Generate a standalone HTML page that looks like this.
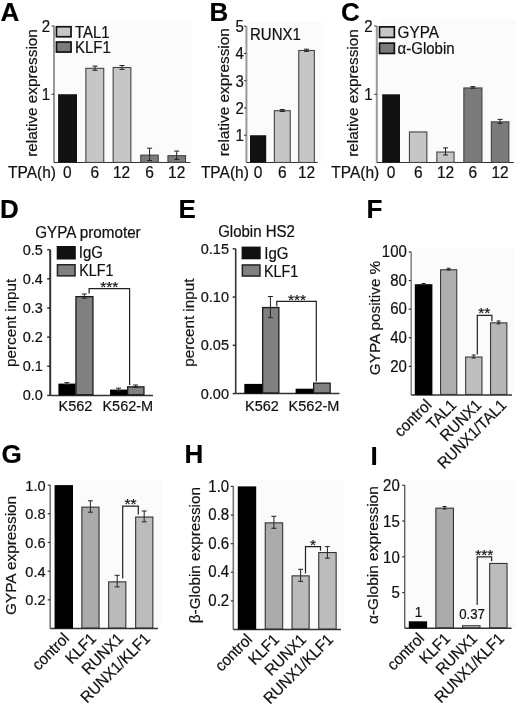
<!DOCTYPE html>
<html><head><meta charset="utf-8"><title>Figure</title>
<style>
html,body{margin:0;padding:0;background:#fff;}
body{width:520px;height:705px;overflow:hidden;}
svg{display:block;filter:blur(0.4px);}
text{font-family:"Liberation Sans", Arial, sans-serif;stroke:#111;stroke-width:0.2px;}
</style></head><body>
<svg width="520" height="705" viewBox="0 0 520 705">
<rect x="0" y="0" width="520" height="705" fill="#fff"/>
<rect x="55.00" y="20.00" width="137.30" height="142.00" fill="#fbfbfb"/>
<rect x="247.00" y="22.10" width="76.70" height="139.90" fill="#fbfbfb"/>
<rect x="378.00" y="19.20" width="138.00" height="142.80" fill="#fbfbfb"/>
<rect x="412.00" y="247.90" width="102.70" height="146.60" fill="#fbfbfb"/>
<rect x="51.00" y="479.90" width="110.30" height="148.10" fill="#fbfbfb"/>
<rect x="234.00" y="479.90" width="109.90" height="149.10" fill="#fbfbfb"/>
<rect x="405.50" y="479.80" width="111.00" height="148.20" fill="#fbfbfb"/>
<text transform="translate(0.50 21.00)" font-size="26" font-weight="bold" fill="#000">A</text>
<line x1="54.00" y1="26.00" x2="54.00" y2="162.50" stroke="#999" stroke-width="2"/>
<line x1="54.00" y1="162.50" x2="190.40" y2="162.50" stroke="#333" stroke-width="1.2"/>
<line x1="51.50" y1="94.25" x2="54.00" y2="94.25" stroke="#333" stroke-width="1"/>
<text transform="translate(50.00 100.05) scale(1 1.04)" font-size="15" text-anchor="end" fill="#111">1</text>
<line x1="51.50" y1="26.00" x2="54.00" y2="26.00" stroke="#333" stroke-width="1"/>
<text transform="translate(50.00 31.80) scale(1 1.04)" font-size="15" text-anchor="end" fill="#111">2</text>
<rect x="58.10" y="94.25" width="18.90" height="68.25" fill="#111"/>
<rect x="85.85" y="68.32" width="17.90" height="94.13" fill="#c6c6c6" stroke="#444" stroke-width="1.1"/>
<rect x="113.15" y="67.50" width="17.70" height="94.95" fill="#c6c6c6" stroke="#444" stroke-width="1.1"/>
<rect x="140.75" y="155.13" width="17.50" height="7.32" fill="#7b7b7b" stroke="#444" stroke-width="1.1"/>
<rect x="167.95" y="155.68" width="17.60" height="6.77" fill="#7b7b7b" stroke="#444" stroke-width="1.1"/>
<line x1="95.00" y1="66.10" x2="95.00" y2="70.30" stroke="#222" stroke-width="1.0"/>
<line x1="92.50" y1="66.10" x2="97.50" y2="66.10" stroke="#222" stroke-width="1.0"/>
<line x1="92.50" y1="70.30" x2="97.50" y2="70.30" stroke="#222" stroke-width="1.0"/>
<line x1="122.00" y1="65.50" x2="122.00" y2="69.40" stroke="#222" stroke-width="1.0"/>
<line x1="119.50" y1="65.50" x2="124.50" y2="65.50" stroke="#222" stroke-width="1.0"/>
<line x1="119.50" y1="69.40" x2="124.50" y2="69.40" stroke="#222" stroke-width="1.0"/>
<line x1="149.60" y1="148.20" x2="149.60" y2="160.50" stroke="#222" stroke-width="1.0"/>
<line x1="147.10" y1="148.20" x2="152.10" y2="148.20" stroke="#222" stroke-width="1.0"/>
<line x1="147.10" y1="160.50" x2="152.10" y2="160.50" stroke="#222" stroke-width="1.0"/>
<line x1="176.70" y1="151.10" x2="176.70" y2="159.40" stroke="#222" stroke-width="1.0"/>
<line x1="174.20" y1="151.10" x2="179.20" y2="151.10" stroke="#222" stroke-width="1.0"/>
<line x1="174.20" y1="159.40" x2="179.20" y2="159.40" stroke="#222" stroke-width="1.0"/>
<rect x="56.45" y="26.75" width="14.60" height="10.00" fill="#c6c6c6" stroke="#111" stroke-width="1.7"/>
<rect x="56.45" y="42.05" width="14.60" height="10.00" fill="#7b7b7b" stroke="#111" stroke-width="1.7"/>
<text transform="translate(75.00 37.50) scale(1 1.06)" font-size="15" fill="#111">TAL1</text>
<text transform="translate(75.00 53.10) scale(1 1.06)" font-size="15" fill="#111">KLF1</text>
<text transform="translate(8.00 177.50) scale(1 1.06)" font-size="15.5" fill="#111">TPA(h)</text>
<text transform="translate(67.40 177.50) scale(1 1.06)" font-size="15.5" text-anchor="middle" fill="#111">0</text>
<text transform="translate(94.80 177.50) scale(1 1.06)" font-size="15.5" text-anchor="middle" fill="#111">6</text>
<text transform="translate(121.60 177.50) scale(1 1.06)" font-size="15.5" text-anchor="middle" fill="#111">12</text>
<text transform="translate(149.50 177.50) scale(1 1.06)" font-size="15.5" text-anchor="middle" fill="#111">6</text>
<text transform="translate(176.70 177.50) scale(1 1.06)" font-size="15.5" text-anchor="middle" fill="#111">12</text>
<text x="37.00" y="156.77" font-size="15" textLength="127.60" lengthAdjust="spacingAndGlyphs" fill="#111" transform="rotate(-90 37.00 156.77)">relative expression</text>
<text transform="translate(209.50 21.00)" font-size="26" font-weight="bold" fill="#000">B</text>
<line x1="246.40" y1="26.20" x2="246.40" y2="162.50" stroke="#999" stroke-width="2"/>
<line x1="246.40" y1="162.50" x2="317.70" y2="162.50" stroke="#333" stroke-width="1.2"/>
<line x1="243.90" y1="135.24" x2="246.40" y2="135.24" stroke="#333" stroke-width="1"/>
<text transform="translate(243.80 141.04) scale(1 1.04)" font-size="15" text-anchor="end" fill="#111">1</text>
<line x1="243.90" y1="107.98" x2="246.40" y2="107.98" stroke="#333" stroke-width="1"/>
<text transform="translate(243.80 113.78) scale(1 1.04)" font-size="15" text-anchor="end" fill="#111">2</text>
<line x1="243.90" y1="80.72" x2="246.40" y2="80.72" stroke="#333" stroke-width="1"/>
<text transform="translate(243.80 86.52) scale(1 1.04)" font-size="15" text-anchor="end" fill="#111">3</text>
<line x1="243.90" y1="53.46" x2="246.40" y2="53.46" stroke="#333" stroke-width="1"/>
<text transform="translate(243.80 59.26) scale(1 1.04)" font-size="15" text-anchor="end" fill="#111">4</text>
<line x1="243.90" y1="26.20" x2="246.40" y2="26.20" stroke="#333" stroke-width="1"/>
<text transform="translate(243.80 32.00) scale(1 1.04)" font-size="15" text-anchor="end" fill="#111">5</text>
<rect x="250.00" y="135.24" width="16.20" height="27.26" fill="#111"/>
<rect x="274.35" y="110.71" width="15.90" height="51.74" fill="#c6c6c6" stroke="#444" stroke-width="1.1"/>
<rect x="298.75" y="50.47" width="15.60" height="111.98" fill="#c6c6c6" stroke="#444" stroke-width="1.1"/>
<line x1="282.30" y1="109.50" x2="282.30" y2="111.50" stroke="#222" stroke-width="1.0"/>
<line x1="279.80" y1="109.50" x2="284.80" y2="109.50" stroke="#222" stroke-width="1.0"/>
<line x1="279.80" y1="111.50" x2="284.80" y2="111.50" stroke="#222" stroke-width="1.0"/>
<line x1="306.50" y1="49.20" x2="306.50" y2="51.40" stroke="#222" stroke-width="1.0"/>
<line x1="304.00" y1="49.20" x2="309.00" y2="49.20" stroke="#222" stroke-width="1.0"/>
<line x1="304.00" y1="51.40" x2="309.00" y2="51.40" stroke="#222" stroke-width="1.0"/>
<text transform="translate(250.00 39.50) scale(1 1.06)" font-size="15" fill="#111">RUNX1</text>
<text transform="translate(200.90 177.50) scale(1 1.06)" font-size="15.5" fill="#111">TPA(h)</text>
<text transform="translate(258.10 177.50) scale(1 1.06)" font-size="15.5" text-anchor="middle" fill="#111">0</text>
<text transform="translate(282.30 177.50) scale(1 1.06)" font-size="15.5" text-anchor="middle" fill="#111">6</text>
<text transform="translate(306.50 177.50) scale(1 1.06)" font-size="15.5" text-anchor="middle" fill="#111">12</text>
<text x="229.40" y="156.27" font-size="15" textLength="128.11" lengthAdjust="spacingAndGlyphs" fill="#111" transform="rotate(-90 229.40 156.27)">relative expression</text>
<text transform="translate(341.00 20.50)" font-size="26" font-weight="bold" fill="#000">C</text>
<line x1="376.80" y1="26.00" x2="376.80" y2="162.50" stroke="#999" stroke-width="2"/>
<line x1="376.80" y1="162.50" x2="513.80" y2="162.50" stroke="#333" stroke-width="1.2"/>
<line x1="374.30" y1="94.25" x2="376.80" y2="94.25" stroke="#333" stroke-width="1"/>
<text transform="translate(372.70 100.05) scale(1 1.04)" font-size="15" text-anchor="end" fill="#111">1</text>
<line x1="374.30" y1="26.00" x2="376.80" y2="26.00" stroke="#333" stroke-width="1"/>
<text transform="translate(372.70 31.80) scale(1 1.04)" font-size="15" text-anchor="end" fill="#111">2</text>
<rect x="382.20" y="94.30" width="17.80" height="68.20" fill="#111"/>
<rect x="409.45" y="131.95" width="17.40" height="30.50" fill="#c6c6c6" stroke="#444" stroke-width="1.1"/>
<rect x="436.85" y="152.05" width="17.20" height="10.40" fill="#c6c6c6" stroke="#444" stroke-width="1.1"/>
<rect x="463.85" y="87.95" width="18.10" height="74.50" fill="#7b7b7b" stroke="#444" stroke-width="1.1"/>
<rect x="491.35" y="121.85" width="17.50" height="40.60" fill="#7b7b7b" stroke="#444" stroke-width="1.1"/>
<line x1="445.50" y1="147.90" x2="445.50" y2="155.00" stroke="#222" stroke-width="1.0"/>
<line x1="443.00" y1="147.90" x2="448.00" y2="147.90" stroke="#222" stroke-width="1.0"/>
<line x1="443.00" y1="155.00" x2="448.00" y2="155.00" stroke="#222" stroke-width="1.0"/>
<line x1="472.90" y1="86.60" x2="472.90" y2="88.20" stroke="#222" stroke-width="1.0"/>
<line x1="470.40" y1="86.60" x2="475.40" y2="86.60" stroke="#222" stroke-width="1.0"/>
<line x1="470.40" y1="88.20" x2="475.40" y2="88.20" stroke="#222" stroke-width="1.0"/>
<line x1="500.10" y1="119.40" x2="500.10" y2="123.50" stroke="#222" stroke-width="1.0"/>
<line x1="497.60" y1="119.40" x2="502.60" y2="119.40" stroke="#222" stroke-width="1.0"/>
<line x1="497.60" y1="123.50" x2="502.60" y2="123.50" stroke="#222" stroke-width="1.0"/>
<rect x="379.55" y="26.85" width="14.80" height="10.60" fill="#c6c6c6" stroke="#111" stroke-width="1.7"/>
<rect x="379.55" y="43.15" width="14.80" height="10.30" fill="#7b7b7b" stroke="#111" stroke-width="1.7"/>
<text transform="translate(397.60 38.30) scale(1 1.06)" font-size="15" fill="#111" textLength="41.40" lengthAdjust="spacingAndGlyphs">GYPA</text>
<text transform="translate(397.60 54.00) scale(1 1.06)" font-size="15" fill="#111">α-Globin</text>
<text transform="translate(331.30 177.50) scale(1 1.06)" font-size="15.5" fill="#111">TPA(h)</text>
<text transform="translate(391.10 177.50) scale(1 1.06)" font-size="15.5" text-anchor="middle" fill="#111">0</text>
<text transform="translate(418.20 177.50) scale(1 1.06)" font-size="15.5" text-anchor="middle" fill="#111">6</text>
<text transform="translate(445.50 177.50) scale(1 1.06)" font-size="15.5" text-anchor="middle" fill="#111">12</text>
<text transform="translate(472.90 177.50) scale(1 1.06)" font-size="15.5" text-anchor="middle" fill="#111">6</text>
<text transform="translate(500.10 177.50) scale(1 1.06)" font-size="15.5" text-anchor="middle" fill="#111">12</text>
<text x="358.50" y="156.87" font-size="15" textLength="127.60" lengthAdjust="spacingAndGlyphs" fill="#111" transform="rotate(-90 358.50 156.87)">relative expression</text>
<text transform="translate(0.00 218.00)" font-size="26" font-weight="bold" fill="#000">D</text>
<text transform="translate(35.20 237.80) scale(1 1.06)" font-size="15" fill="#111" textLength="105.50" lengthAdjust="spacingAndGlyphs">GYPA promoter</text>
<line x1="50.20" y1="249.70" x2="50.20" y2="395.40" stroke="#333" stroke-width="2"/>
<line x1="50.20" y1="395.40" x2="153.00" y2="395.40" stroke="#333" stroke-width="1.5"/>
<line x1="47.20" y1="395.40" x2="50.20" y2="395.40" stroke="#333" stroke-width="1.5"/>
<text transform="translate(42.80 400.40) scale(1 1.06)" font-size="14.5" text-anchor="end" fill="#111">0.0</text>
<line x1="47.20" y1="366.26" x2="50.20" y2="366.26" stroke="#333" stroke-width="1.5"/>
<text transform="translate(42.80 371.26) scale(1 1.06)" font-size="14.5" text-anchor="end" fill="#111">0.1</text>
<line x1="47.20" y1="337.12" x2="50.20" y2="337.12" stroke="#333" stroke-width="1.5"/>
<text transform="translate(42.80 342.12) scale(1 1.06)" font-size="14.5" text-anchor="end" fill="#111">0.2</text>
<line x1="47.20" y1="307.98" x2="50.20" y2="307.98" stroke="#333" stroke-width="1.5"/>
<text transform="translate(42.80 312.98) scale(1 1.06)" font-size="14.5" text-anchor="end" fill="#111">0.3</text>
<line x1="47.20" y1="278.84" x2="50.20" y2="278.84" stroke="#333" stroke-width="1.5"/>
<text transform="translate(42.80 283.84) scale(1 1.06)" font-size="14.5" text-anchor="end" fill="#111">0.4</text>
<line x1="47.20" y1="249.70" x2="50.20" y2="249.70" stroke="#333" stroke-width="1.5"/>
<text transform="translate(42.80 254.70) scale(1 1.06)" font-size="14.5" text-anchor="end" fill="#111">0.5</text>
<rect x="58.40" y="383.60" width="17.20" height="11.80" fill="#000"/>
<rect x="75.95" y="296.65" width="17.00" height="98.10" fill="#808080" stroke="#1a1a1a" stroke-width="1.3"/>
<rect x="110.00" y="389.60" width="17.20" height="5.80" fill="#000"/>
<rect x="127.65" y="386.85" width="16.30" height="7.90" fill="#808080" stroke="#1a1a1a" stroke-width="1.3"/>
<line x1="84.30" y1="294.00" x2="84.30" y2="298.20" stroke="#222" stroke-width="1.0"/>
<line x1="81.80" y1="294.00" x2="86.80" y2="294.00" stroke="#222" stroke-width="1.0"/>
<line x1="81.80" y1="298.20" x2="86.80" y2="298.20" stroke="#222" stroke-width="1.0"/>
<line x1="66.90" y1="382.60" x2="66.90" y2="384.60" stroke="#222" stroke-width="1.0"/>
<line x1="64.40" y1="382.60" x2="69.40" y2="382.60" stroke="#222" stroke-width="1.0"/>
<line x1="64.40" y1="384.60" x2="69.40" y2="384.60" stroke="#222" stroke-width="1.0"/>
<line x1="118.50" y1="388.20" x2="118.50" y2="391.00" stroke="#222" stroke-width="1.0"/>
<line x1="116.00" y1="388.20" x2="121.00" y2="388.20" stroke="#222" stroke-width="1.0"/>
<line x1="116.00" y1="391.00" x2="121.00" y2="391.00" stroke="#222" stroke-width="1.0"/>
<line x1="135.70" y1="385.00" x2="135.70" y2="387.40" stroke="#222" stroke-width="1.0"/>
<line x1="133.20" y1="385.00" x2="138.20" y2="385.00" stroke="#222" stroke-width="1.0"/>
<line x1="133.20" y1="387.40" x2="138.20" y2="387.40" stroke="#222" stroke-width="1.0"/>
<polyline points="89.10,293.60 89.10,288.70 129.60,288.70 129.60,384.90" fill="none" stroke="#222" stroke-width="1.2"/>
<text transform="translate(109.20 291.50)" font-size="15.5" text-anchor="middle" fill="#111">***</text>
<rect x="57.45" y="246.75" width="17.60" height="12.00" fill="#111" stroke="#111" stroke-width="1.5"/>
<rect x="57.45" y="264.75" width="17.60" height="11.10" fill="#808080" stroke="#222" stroke-width="1.5"/>
<text transform="translate(78.80 258.40) scale(1 1.06)" font-size="15" fill="#111">IgG</text>
<text transform="translate(79.30 276.30) scale(1 1.06)" font-size="15" fill="#111" textLength="34.20" lengthAdjust="spacingAndGlyphs">KLF1</text>
<text transform="translate(75.50 411.30) scale(1 1.06)" font-size="14.5" text-anchor="middle" fill="#111">K562</text>
<text transform="translate(127.80 411.30) scale(1 1.06)" font-size="14.5" text-anchor="middle" fill="#111">K562-M</text>
<text x="16.40" y="367.07" font-size="15" textLength="88.45" lengthAdjust="spacingAndGlyphs" fill="#111" transform="rotate(-90 16.40 367.07)">percent input</text>
<text transform="translate(178.50 218.00)" font-size="26" font-weight="bold" fill="#000">E</text>
<text transform="translate(218.20 237.30) scale(1 1.06)" font-size="15" fill="#111">Globin HS2</text>
<line x1="235.70" y1="248.80" x2="235.70" y2="393.60" stroke="#333" stroke-width="1.6"/>
<line x1="235.70" y1="393.60" x2="339.50" y2="393.60" stroke="#333" stroke-width="1.5"/>
<line x1="232.70" y1="393.60" x2="235.70" y2="393.60" stroke="#333" stroke-width="1.5"/>
<text transform="translate(229.00 398.60) scale(1 1.06)" font-size="14.5" text-anchor="end" fill="#111">0.00</text>
<line x1="232.70" y1="345.33" x2="235.70" y2="345.33" stroke="#333" stroke-width="1.5"/>
<text transform="translate(229.00 350.33) scale(1 1.06)" font-size="14.5" text-anchor="end" fill="#111">0.05</text>
<line x1="232.70" y1="297.07" x2="235.70" y2="297.07" stroke="#333" stroke-width="1.5"/>
<text transform="translate(229.00 302.07) scale(1 1.06)" font-size="14.5" text-anchor="end" fill="#111">0.10</text>
<line x1="232.70" y1="248.80" x2="235.70" y2="248.80" stroke="#333" stroke-width="1.5"/>
<text transform="translate(229.00 253.80) scale(1 1.06)" font-size="14.5" text-anchor="end" fill="#111">0.15</text>
<rect x="244.30" y="383.90" width="17.90" height="9.70" fill="#000"/>
<rect x="262.65" y="307.55" width="16.20" height="85.40" fill="#808080" stroke="#1a1a1a" stroke-width="1.3"/>
<rect x="295.60" y="388.70" width="17.70" height="4.90" fill="#000"/>
<rect x="313.65" y="383.15" width="16.50" height="9.80" fill="#808080" stroke="#1a1a1a" stroke-width="1.3"/>
<line x1="270.40" y1="296.50" x2="270.40" y2="317.70" stroke="#222" stroke-width="1.0"/>
<line x1="267.90" y1="296.50" x2="272.90" y2="296.50" stroke="#222" stroke-width="1.0"/>
<line x1="267.90" y1="317.70" x2="272.90" y2="317.70" stroke="#222" stroke-width="1.0"/>
<polyline points="276.80,306.30 276.80,301.30 316.30,301.30 316.30,381.50" fill="none" stroke="#222" stroke-width="1.2"/>
<text transform="translate(297.00 304.50)" font-size="15.5" text-anchor="middle" fill="#111">***</text>
<rect x="242.35" y="247.35" width="17.60" height="11.20" fill="#111" stroke="#111" stroke-width="1.5"/>
<rect x="242.35" y="264.95" width="17.60" height="11.10" fill="#808080" stroke="#222" stroke-width="1.5"/>
<text transform="translate(264.30 259.00) scale(1 1.06)" font-size="15" fill="#111">IgG</text>
<text transform="translate(264.00 277.00) scale(1 1.06)" font-size="15" fill="#111" textLength="34.20" lengthAdjust="spacingAndGlyphs">KLF1</text>
<text transform="translate(262.00 410.50) scale(1 1.06)" font-size="14.5" text-anchor="middle" fill="#111">K562</text>
<text transform="translate(314.00 410.50) scale(1 1.06)" font-size="14.5" text-anchor="middle" fill="#111">K562-M</text>
<text x="194.40" y="366.67" font-size="15" textLength="88.05" lengthAdjust="spacingAndGlyphs" fill="#111" transform="rotate(-90 194.40 366.67)">percent input</text>
<text transform="translate(366.50 218.00)" font-size="26" font-weight="bold" fill="#000">F</text>
<line x1="411.20" y1="251.90" x2="411.20" y2="395.00" stroke="#888" stroke-width="1.6"/>
<line x1="411.20" y1="395.00" x2="512.00" y2="395.00" stroke="#333" stroke-width="1.5"/>
<line x1="408.70" y1="366.38" x2="411.20" y2="366.38" stroke="#333" stroke-width="1.2"/>
<text transform="translate(406.80 371.68) scale(1 1.06)" font-size="15" text-anchor="end" fill="#111">20</text>
<line x1="408.70" y1="337.76" x2="411.20" y2="337.76" stroke="#333" stroke-width="1.2"/>
<text transform="translate(406.80 343.06) scale(1 1.06)" font-size="15" text-anchor="end" fill="#111">40</text>
<line x1="408.70" y1="309.14" x2="411.20" y2="309.14" stroke="#333" stroke-width="1.2"/>
<text transform="translate(406.80 314.44) scale(1 1.06)" font-size="15" text-anchor="end" fill="#111">60</text>
<line x1="408.70" y1="280.52" x2="411.20" y2="280.52" stroke="#333" stroke-width="1.2"/>
<text transform="translate(406.80 285.82) scale(1 1.06)" font-size="15" text-anchor="end" fill="#111">80</text>
<line x1="408.70" y1="251.90" x2="411.20" y2="251.90" stroke="#333" stroke-width="1.2"/>
<text transform="translate(406.80 257.20) scale(1 1.06)" font-size="15" text-anchor="end" fill="#111">100</text>
<rect x="414.80" y="284.20" width="17.60" height="110.80" fill="#000"/>
<rect x="440.55" y="269.75" width="16.20" height="124.70" fill="#aeaeae" stroke="#3a3a3a" stroke-width="1.1"/>
<rect x="465.65" y="357.05" width="16.30" height="37.40" fill="#bebebe" stroke="#3a3a3a" stroke-width="1.1"/>
<rect x="490.55" y="322.85" width="16.30" height="71.60" fill="#b7b7b7" stroke="#3a3a3a" stroke-width="1.1"/>
<line x1="423.60" y1="283.50" x2="423.60" y2="285.00" stroke="#222" stroke-width="1.0"/>
<line x1="421.60" y1="283.50" x2="425.60" y2="283.50" stroke="#222" stroke-width="1.0"/>
<line x1="421.60" y1="285.00" x2="425.60" y2="285.00" stroke="#222" stroke-width="1.0"/>
<line x1="448.60" y1="268.30" x2="448.60" y2="270.00" stroke="#222" stroke-width="1.0"/>
<line x1="446.60" y1="268.30" x2="450.60" y2="268.30" stroke="#222" stroke-width="1.0"/>
<line x1="446.60" y1="270.00" x2="450.60" y2="270.00" stroke="#222" stroke-width="1.0"/>
<line x1="473.70" y1="355.00" x2="473.70" y2="358.00" stroke="#222" stroke-width="1.0"/>
<line x1="471.70" y1="355.00" x2="475.70" y2="355.00" stroke="#222" stroke-width="1.0"/>
<line x1="471.70" y1="358.00" x2="475.70" y2="358.00" stroke="#222" stroke-width="1.0"/>
<line x1="498.60" y1="321.00" x2="498.60" y2="323.80" stroke="#222" stroke-width="1.0"/>
<line x1="496.60" y1="321.00" x2="500.60" y2="321.00" stroke="#222" stroke-width="1.0"/>
<line x1="496.60" y1="323.80" x2="500.60" y2="323.80" stroke="#222" stroke-width="1.0"/>
<polyline points="477.30,354.60 477.30,315.40 491.90,315.40 491.90,321.20" fill="none" stroke="#222" stroke-width="1.2"/>
<text transform="translate(484.20 317.50)" font-size="15.5" text-anchor="middle" fill="#111">**</text>
<text x="379.90" y="375.17" font-size="15" textLength="114.40" lengthAdjust="spacingAndGlyphs" fill="#111" transform="rotate(-90 379.90 375.17)">GYPA positive %</text>
<text transform="translate(432.50 406.00) rotate(-45) scale(1 1.06)" font-size="15" text-anchor="end" fill="#111">control</text>
<text transform="translate(457.50 406.00) rotate(-45) scale(1 1.06)" font-size="15" text-anchor="end" fill="#111">TAL1</text>
<text transform="translate(482.50 406.00) rotate(-45) scale(1 1.06)" font-size="15" text-anchor="end" fill="#111">RUNX1</text>
<text transform="translate(507.50 406.00) rotate(-45) scale(1 1.06)" font-size="15" text-anchor="end" fill="#111">RUNX1/TAL1</text>
<text transform="translate(1.50 463.00)" font-size="26" font-weight="bold" fill="#000">G</text>
<line x1="50.20" y1="485.10" x2="50.20" y2="628.50" stroke="#777" stroke-width="1.6"/>
<line x1="50.20" y1="628.50" x2="158.00" y2="628.50" stroke="#333" stroke-width="1.5"/>
<line x1="47.70" y1="599.82" x2="50.20" y2="599.82" stroke="#333" stroke-width="1.2"/>
<text transform="translate(45.60 605.42) scale(1 1.04)" font-size="14.6" text-anchor="end" fill="#111">0.2</text>
<line x1="47.70" y1="571.14" x2="50.20" y2="571.14" stroke="#333" stroke-width="1.2"/>
<text transform="translate(45.60 576.74) scale(1 1.04)" font-size="14.6" text-anchor="end" fill="#111">0.4</text>
<line x1="47.70" y1="542.46" x2="50.20" y2="542.46" stroke="#333" stroke-width="1.2"/>
<text transform="translate(45.60 548.06) scale(1 1.04)" font-size="14.6" text-anchor="end" fill="#111">0.6</text>
<line x1="47.70" y1="513.78" x2="50.20" y2="513.78" stroke="#333" stroke-width="1.2"/>
<text transform="translate(45.60 519.38) scale(1 1.04)" font-size="14.6" text-anchor="end" fill="#111">0.8</text>
<line x1="47.70" y1="485.10" x2="50.20" y2="485.10" stroke="#333" stroke-width="1.2"/>
<text transform="translate(45.60 490.70) scale(1 1.04)" font-size="14.6" text-anchor="end" fill="#111">1.0</text>
<rect x="54.60" y="485.10" width="18.40" height="143.40" fill="#000"/>
<rect x="81.85" y="507.15" width="17.20" height="120.80" fill="#ababab" stroke="#333" stroke-width="1.1"/>
<rect x="108.65" y="581.85" width="17.20" height="46.10" fill="#bababa" stroke="#333" stroke-width="1.1"/>
<rect x="135.65" y="517.05" width="17.20" height="110.90" fill="#bcbcbc" stroke="#333" stroke-width="1.1"/>
<line x1="90.40" y1="500.80" x2="90.40" y2="512.20" stroke="#222" stroke-width="1.0"/>
<line x1="87.90" y1="500.80" x2="92.90" y2="500.80" stroke="#222" stroke-width="1.0"/>
<line x1="87.90" y1="512.20" x2="92.90" y2="512.20" stroke="#222" stroke-width="1.0"/>
<line x1="117.20" y1="575.30" x2="117.20" y2="586.90" stroke="#222" stroke-width="1.0"/>
<line x1="114.70" y1="575.30" x2="119.70" y2="575.30" stroke="#222" stroke-width="1.0"/>
<line x1="114.70" y1="586.90" x2="119.70" y2="586.90" stroke="#222" stroke-width="1.0"/>
<line x1="144.20" y1="511.00" x2="144.20" y2="521.80" stroke="#222" stroke-width="1.0"/>
<line x1="141.70" y1="511.00" x2="146.70" y2="511.00" stroke="#222" stroke-width="1.0"/>
<line x1="141.70" y1="521.80" x2="146.70" y2="521.80" stroke="#222" stroke-width="1.0"/>
<polyline points="122.70,578.40 122.70,506.10 138.30,506.10 138.30,514.60" fill="none" stroke="#222" stroke-width="1.2"/>
<text transform="translate(130.60 508.50)" font-size="15.5" text-anchor="middle" fill="#111">**</text>
<text x="16.10" y="614.97" font-size="15" textLength="119.09" lengthAdjust="spacingAndGlyphs" fill="#111" transform="rotate(-90 16.10 614.97)">GYPA expression</text>
<text transform="translate(70.20 639.50) rotate(-45) scale(1 1.06)" font-size="15" text-anchor="end" fill="#111">control</text>
<text transform="translate(97.20 639.50) rotate(-45) scale(1 1.06)" font-size="15" text-anchor="end" fill="#111">KLF1</text>
<text transform="translate(124.20 639.50) rotate(-45) scale(1 1.06)" font-size="15" text-anchor="end" fill="#111">RUNX1</text>
<text transform="translate(151.20 639.50) rotate(-45) scale(1 1.06)" font-size="15" text-anchor="end" fill="#111">RUNX1/KLF1</text>
<text transform="translate(184.50 462.50)" font-size="26" font-weight="bold" fill="#000">H</text>
<line x1="233.30" y1="486.40" x2="233.30" y2="629.50" stroke="#777" stroke-width="1.6"/>
<line x1="233.30" y1="629.50" x2="341.00" y2="629.50" stroke="#333" stroke-width="1.5"/>
<line x1="230.80" y1="600.88" x2="233.30" y2="600.88" stroke="#333" stroke-width="1.2"/>
<text transform="translate(229.20 606.08) scale(1 1.04)" font-size="15" text-anchor="end" fill="#111">0.2</text>
<line x1="230.80" y1="572.26" x2="233.30" y2="572.26" stroke="#333" stroke-width="1.2"/>
<text transform="translate(229.20 577.46) scale(1 1.04)" font-size="15" text-anchor="end" fill="#111">0.4</text>
<line x1="230.80" y1="543.64" x2="233.30" y2="543.64" stroke="#333" stroke-width="1.2"/>
<text transform="translate(229.20 548.84) scale(1 1.04)" font-size="15" text-anchor="end" fill="#111">0.6</text>
<line x1="230.80" y1="515.02" x2="233.30" y2="515.02" stroke="#333" stroke-width="1.2"/>
<text transform="translate(229.20 520.22) scale(1 1.04)" font-size="15" text-anchor="end" fill="#111">0.8</text>
<line x1="230.80" y1="486.40" x2="233.30" y2="486.40" stroke="#333" stroke-width="1.2"/>
<text transform="translate(229.20 491.60) scale(1 1.04)" font-size="15" text-anchor="end" fill="#111">1.0</text>
<rect x="237.80" y="486.40" width="18.40" height="143.10" fill="#000"/>
<rect x="265.25" y="522.85" width="17.40" height="106.10" fill="#ababab" stroke="#333" stroke-width="1.1"/>
<rect x="292.05" y="575.85" width="17.10" height="53.10" fill="#bababa" stroke="#333" stroke-width="1.1"/>
<rect x="318.75" y="552.55" width="17.40" height="76.40" fill="#bcbcbc" stroke="#333" stroke-width="1.1"/>
<line x1="273.90" y1="516.30" x2="273.90" y2="528.30" stroke="#222" stroke-width="1.0"/>
<line x1="271.40" y1="516.30" x2="276.40" y2="516.30" stroke="#222" stroke-width="1.0"/>
<line x1="271.40" y1="528.30" x2="276.40" y2="528.30" stroke="#222" stroke-width="1.0"/>
<line x1="300.60" y1="569.30" x2="300.60" y2="581.30" stroke="#222" stroke-width="1.0"/>
<line x1="298.10" y1="569.30" x2="303.10" y2="569.30" stroke="#222" stroke-width="1.0"/>
<line x1="298.10" y1="581.30" x2="303.10" y2="581.30" stroke="#222" stroke-width="1.0"/>
<line x1="327.40" y1="546.60" x2="327.40" y2="558.20" stroke="#222" stroke-width="1.0"/>
<line x1="324.90" y1="546.60" x2="329.90" y2="546.60" stroke="#222" stroke-width="1.0"/>
<line x1="324.90" y1="558.20" x2="329.90" y2="558.20" stroke="#222" stroke-width="1.0"/>
<polyline points="305.50,573.60 305.50,546.60 320.50,546.60 320.50,550.70" fill="none" stroke="#222" stroke-width="1.2"/>
<text transform="translate(313.00 549.50)" font-size="15.5" text-anchor="middle" fill="#111">*</text>
<text x="200.00" y="623.17" font-size="15" textLength="136.13" lengthAdjust="spacingAndGlyphs" fill="#111" transform="rotate(-90 200.00 623.17)">β-Globin expression</text>
<text transform="translate(253.20 640.50) rotate(-45) scale(1 1.06)" font-size="15" text-anchor="end" fill="#111">control</text>
<text transform="translate(280.20 640.50) rotate(-45) scale(1 1.06)" font-size="15" text-anchor="end" fill="#111">KLF1</text>
<text transform="translate(307.20 640.50) rotate(-45) scale(1 1.06)" font-size="15" text-anchor="end" fill="#111">RUNX1</text>
<text transform="translate(334.20 640.50) rotate(-45) scale(1 1.06)" font-size="15" text-anchor="end" fill="#111">RUNX1/KLF1</text>
<text transform="translate(370.50 464.50)" font-size="26" font-weight="bold" fill="#000">I</text>
<line x1="404.70" y1="485.30" x2="404.70" y2="628.30" stroke="#555" stroke-width="1.3"/>
<line x1="404.70" y1="628.30" x2="511.60" y2="628.30" stroke="#333" stroke-width="1.5"/>
<line x1="402.20" y1="592.55" x2="404.70" y2="592.55" stroke="#333" stroke-width="1.2"/>
<text transform="translate(399.80 598.35) scale(1 1.04)" font-size="15" text-anchor="end" fill="#111">5</text>
<line x1="402.20" y1="556.80" x2="404.70" y2="556.80" stroke="#333" stroke-width="1.2"/>
<text transform="translate(399.80 562.60) scale(1 1.04)" font-size="15" text-anchor="end" fill="#111">10</text>
<line x1="402.20" y1="521.05" x2="404.70" y2="521.05" stroke="#333" stroke-width="1.2"/>
<text transform="translate(399.80 526.85) scale(1 1.04)" font-size="15" text-anchor="end" fill="#111">15</text>
<line x1="402.20" y1="485.30" x2="404.70" y2="485.30" stroke="#333" stroke-width="1.2"/>
<text transform="translate(399.80 491.10) scale(1 1.04)" font-size="15" text-anchor="end" fill="#111">20</text>
<rect x="408.80" y="621.30" width="18.30" height="7.00" fill="#000"/>
<rect x="435.85" y="508.15" width="17.60" height="119.60" fill="#ababab" stroke="#333" stroke-width="1.1"/>
<rect x="462.55" y="625.75" width="17.40" height="2.00" fill="#d0d0d0" stroke="#333" stroke-width="1.1"/>
<rect x="489.65" y="563.45" width="17.40" height="64.30" fill="#bcbcbc" stroke="#333" stroke-width="1.1"/>
<line x1="444.60" y1="506.50" x2="444.60" y2="509.00" stroke="#222" stroke-width="1.0"/>
<line x1="442.60" y1="506.50" x2="446.60" y2="506.50" stroke="#222" stroke-width="1.0"/>
<line x1="442.60" y1="509.00" x2="446.60" y2="509.00" stroke="#222" stroke-width="1.0"/>
<polyline points="477.20,605.00 477.20,556.90 491.60,556.90 491.60,561.30" fill="none" stroke="#222" stroke-width="1.2"/>
<text transform="translate(484.30 559.50)" font-size="15.5" text-anchor="middle" fill="#111">***</text>
<text transform="translate(418.40 616.80) scale(1 1.06)" font-size="13.5" text-anchor="middle" fill="#111">1</text>
<text transform="translate(472.00 618.80) scale(1 1.06)" font-size="13.2" text-anchor="middle" fill="#111">0.37</text>
<text x="377.80" y="623.97" font-size="15" textLength="137.78" lengthAdjust="spacingAndGlyphs" fill="#111" transform="rotate(-90 377.80 623.97)">α-Globin expression</text>
<text transform="translate(425.20 639.50) rotate(-45) scale(1 1.06)" font-size="15" text-anchor="end" fill="#111">control</text>
<text transform="translate(451.20 639.50) rotate(-45) scale(1 1.06)" font-size="15" text-anchor="end" fill="#111">KLF1</text>
<text transform="translate(478.20 639.50) rotate(-45) scale(1 1.06)" font-size="15" text-anchor="end" fill="#111">RUNX1</text>
<text transform="translate(505.20 639.50) rotate(-45) scale(1 1.06)" font-size="15" text-anchor="end" fill="#111">RUNX1/KLF1</text>
</svg>
</body></html>
